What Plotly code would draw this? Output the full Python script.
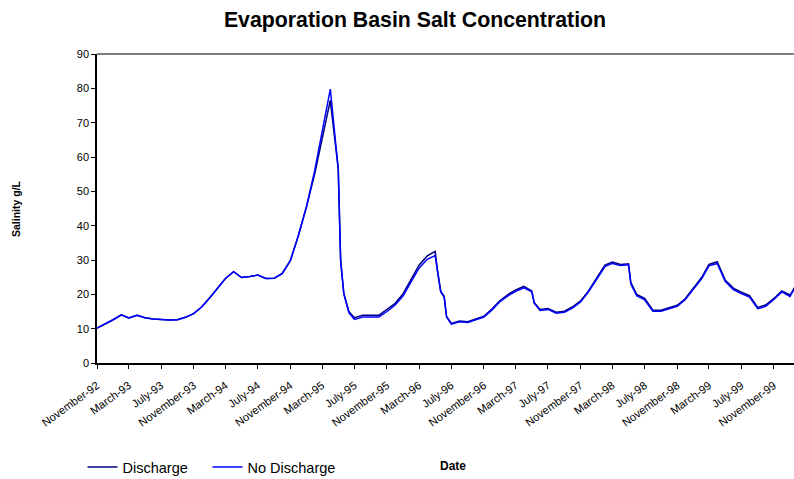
import plotly.graph_objects as go

# Sampling dates for the basin salinity record
dates = [
    "1992-11-01", "1992-12-01", "1993-01-01", "1993-02-01", "1993-03-01", "1993-04-01",
    "1993-05-01", "1993-06-01", "1993-07-01", "1993-08-01", "1993-09-01", "1993-10-01",
    "1993-11-01", "1993-12-01", "1994-01-01", "1994-02-01", "1994-03-01", "1994-04-01",
    "1994-05-01", "1994-06-01", "1994-07-01", "1994-08-01", "1994-09-01", "1994-10-01",
    "1994-11-01", "1994-12-01", "1995-01-01", "1995-02-01", "1995-03-01", "1995-04-01",
    "1995-05-01", "1995-05-10", "1995-05-22", "1995-06-10", "1995-07-01", "1995-08-01",
    "1995-09-01", "1995-10-01", "1995-11-01", "1995-12-01", "1996-01-01", "1996-02-01",
    "1996-03-01", "1996-04-01", "1996-05-01", "1996-05-10", "1996-05-22", "1996-06-04",
    "1996-06-13", "1996-07-01", "1996-08-01", "1996-09-01", "1996-10-01", "1996-11-01",
    "1996-12-01", "1997-01-01", "1997-02-01", "1997-03-01", "1997-04-01", "1997-05-01",
    "1997-05-10", "1997-06-01", "1997-07-01", "1997-08-01", "1997-09-01", "1997-10-01",
    "1997-11-01", "1997-12-01", "1998-01-01", "1998-02-01", "1998-03-01", "1998-04-01",
    "1998-05-01", "1998-05-10", "1998-06-01", "1998-07-01", "1998-08-01", "1998-09-01",
    "1998-10-01", "1998-11-01", "1998-12-01", "1999-01-01", "1999-02-01", "1999-03-01",
    "1999-04-01", "1999-05-01", "1999-06-01", "1999-07-01", "1999-08-01", "1999-09-01",
    "1999-10-01", "1999-11-01", "1999-12-01", "2000-01-01", "2000-02-01",
]

# Salinity (g/L) with drainage discharge to the basin
discharge = [
    10.2, 11.3, 12.6, 14.0, 13.1, 13.9,
    13.2, 12.8, 12.6, 12.5, 12.6, 13.3,
    14.4, 16.3, 19.0, 21.8, 24.6, 26.6,
    24.9, 25.2, 25.6, 24.6, 24.7, 26.0,
    29.8, 37.0, 45.5, 55.0, 65.5, 76.5,
    56.5, 30.0, 20.3, 15.0, 13.2, 13.9,
    13.9, 13.9, 15.6, 17.3, 20.2, 24.4,
    28.5, 31.2, 32.5, 26.8, 20.9, 19.4,
    13.6, 11.5, 12.2, 12.0, 12.7, 13.6,
    15.7, 18.2, 20.0, 21.3, 22.3, 21.0,
    17.6, 15.6, 15.9, 14.8, 15.1, 16.3,
    18.1, 21.0, 24.8, 28.5, 29.4, 28.7,
    28.9, 23.4, 20.0, 18.8, 15.4, 15.4,
    16.1, 16.8, 18.7, 21.7, 24.9, 28.7,
    29.5, 24.2, 21.8, 20.6, 19.6, 16.2,
    16.9, 18.8, 21.0, 19.8, 23.8,
]

# Salinity (g/L) without discharge
no_discharge = [
    10.2, 11.3, 12.6, 14.0, 13.1, 13.9,
    13.2, 12.8, 12.6, 12.5, 12.6, 13.3,
    14.4, 16.3, 19.0, 21.8, 24.6, 26.6,
    24.9, 25.2, 25.6, 24.6, 24.7, 26.0,
    29.8, 37.0, 45.5, 56.0, 67.5, 79.8,
    56.5, 29.8, 20.1, 14.7, 12.7, 13.4,
    13.4, 13.4, 15.0, 16.8, 19.6, 23.6,
    27.6, 30.2, 31.3, 26.6, 20.7, 19.2,
    13.4, 11.3, 12.0, 11.8, 12.5, 13.4,
    15.4, 17.9, 19.6, 20.9, 21.9, 20.7,
    17.4, 15.3, 15.6, 14.5, 14.8, 16.0,
    17.8, 20.7, 24.4, 28.1, 29.0, 28.4,
    28.6, 23.0, 19.6, 18.4, 15.1, 15.1,
    15.8, 16.5, 18.4, 21.4, 24.5, 28.3,
    29.0, 23.8, 21.4, 20.2, 19.2, 15.8,
    16.5, 18.5, 20.7, 19.4, 23.5,
]

FONT = "Arial, 'Liberation Sans', sans-serif"

fig = go.Figure()
fig.add_trace(go.Scatter(
    x=dates, y=discharge, name="Discharge", mode="lines",
    line=dict(color="#000080", width=1.5), legend="legend",
))
fig.add_trace(go.Scatter(
    x=dates, y=no_discharge, name="No Discharge", mode="lines",
    line=dict(color="#0000FF", width=1.5), legend="legend2",
))

legend_style = dict(
    orientation="h", xanchor="left", y=-0.337, yanchor="middle",
    font=dict(family=FONT, size=14.5, color="black"),
    bgcolor="rgba(0,0,0,0)", itemwidth=30,
)

fig.update_layout(
    width=794, height=479,
    margin=dict(l=97, r=0, t=54, b=116, autoexpand=False),
    paper_bgcolor="white", plot_bgcolor="white",
    font=dict(family=FONT, color="black", size=11),
    title=dict(
        text="<b>Evaporation Basin Salt Concentration</b>",
        font=dict(family=FONT, size=21.3, color="black"),
        x=415 / 794, xanchor="center", y=1 - 20 / 479, yanchor="middle",
    ),
    showlegend=True,
    legend=dict(x=(82.5 - 97) / 697, **legend_style),
    legend2=dict(x=(207.5 - 97) / 697, **legend_style),
    xaxis=dict(
        type="date",
        range=["1992-11-01", "2000-01-16"],
        tick0="1992-11-01", dtick="M4", tickformat="%B-%y",
        tickangle=-36, ticks="outside", ticklen=4, tickcolor="black",
        ticklabelstandoff=6, automargin=False,
        showline=True, linecolor="black", linewidth=1.5,
        showgrid=False, zeroline=False,
        tickfont=dict(family=FONT, size=11.2, color="black"),
    ),
    yaxis=dict(
        range=[0, 90], dtick=10, ticks="outside", ticklen=4, tickcolor="black",
        showline=True, linecolor="black", linewidth=1.5, automargin=False,
        showgrid=False, zeroline=False,
        tickfont=dict(family=FONT, size=11, color="black"),
    ),
    shapes=[dict(
        type="line", xref="paper", yref="paper", x0=0, x1=1, y0=1, y1=1,
        line=dict(color="#555555", width=1.5),
    )],
    annotations=[
        dict(text="<b>Date</b>", xref="paper", yref="paper",
             x=(453 - 97) / 697, y=(363 - 466) / 309,
             xanchor="center", yanchor="middle", showarrow=False,
             font=dict(family=FONT, size=12, color="black")),
        dict(text="<b>Salinity g/L</b>", xref="paper", yref="paper",
             x=(16 - 97) / 697, y=(363 - 209) / 309, textangle=-90,
             xanchor="center", yanchor="middle", showarrow=False,
             font=dict(family=FONT, size=10.5, color="black")),
    ],
)

fig.write_html("out.html")
